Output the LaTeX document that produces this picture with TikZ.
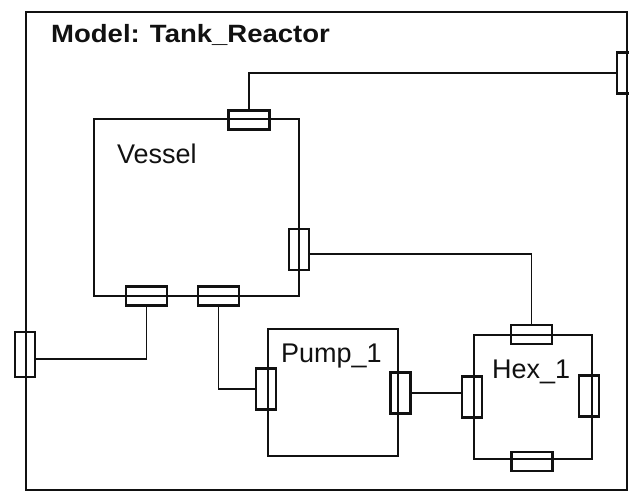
\documentclass[tikz,border=0pt]{standalone}
\usepackage{fontspec}
\setmainfont{Liberation Sans}
\newfontfamily\trTitle[FakeStretch=1.1]{Liberation Sans}
\usetikzlibrary{positioning,calc}
\usepackage{xcolor}
\definecolor{trInk}{HTML}{111111}

\begin{document}
\begin{tikzpicture}[x=1pt, y=-1pt,
  blk/.style={draw=trInk, line width=2.2pt, inner sep=0pt},
  prth/.style={draw=trInk, line width=2.5pt, inner sep=0pt, minimum width=41pt, minimum height=19pt},
  prtv/.style={draw=trInk, line width=2.5pt, inner sep=0pt, minimum width=20pt, minimum height=41pt},
  wire/.style={trInk, line width=1.9pt},
  lbl/.style={font=\fontsize{27}{32}\selectfont, text=trInk, inner sep=0pt, anchor=base west}]
\useasboundingbox (0,0) rectangle (629,493);
\node[blk, line width=2pt, minimum width=601pt, minimum height=478pt] (frame) at (326.25,251) {};
\node[font={\trTitle\fontsize{25}{30}\selectfont\bfseries}, text=trInk, inner sep=0pt, anchor=base west] (title) at (51,42) {Model: Tank\_Reactor};

% ── components
\node[blk, minimum width=205pt, minimum height=177pt] (vessel) at (196.5,207.5) {};
\node[blk, minimum width=130pt, minimum height=127pt] (pump) at (333,392.5) {};
\node[blk, minimum width=118pt, minimum height=124pt] (hex) at (533,397) {};
\node[lbl] (vesselL) at (117,163) {Vessel};
\node[lbl] (pumpL) at (281,362) {Pump\_1};
\node[lbl] (hexL) at (492,378) {Hex\_1};

% ── ports
\node[prtv, minimum height=45pt] (frameL) at (25,354.5) {};
\node[prtv] (frameR) at (627,73) {};
\node[prth] (vTop) at (249,120) {};
\node[prtv] (vRight) at (299,249.5) {};
\node[prth] (vBotL) at (146.5,296) {};
\node[prth] (vBotR) at (218.5,296) {};
\node[prtv] (pLeft) at (266,389) {};
\node[prtv] (pRight) at (400.5,393) {};
\node[prth] (hTop) at (531.5,334.5) {};
\node[prtv] (hLeft) at (472,397) {};
\node[prtv] (hRight) at (589,396) {};
\node[prth] (hBot) at (532,461.5) {};

% ── connections
\draw[wire] (vTop.north) |- (frameR.west);
\draw[wire] ([yshift=-4.5pt]vRight.east) -| (hTop.north);
\draw[wire] (vBotL.south) |- ([yshift=-4.5pt]frameL.east);
\draw[wire] (vBotR.south) |- (pLeft.west);
\draw[wire] (pRight.east) -- (pRight.east -| hLeft.west);
\end{tikzpicture}
\end{document}
